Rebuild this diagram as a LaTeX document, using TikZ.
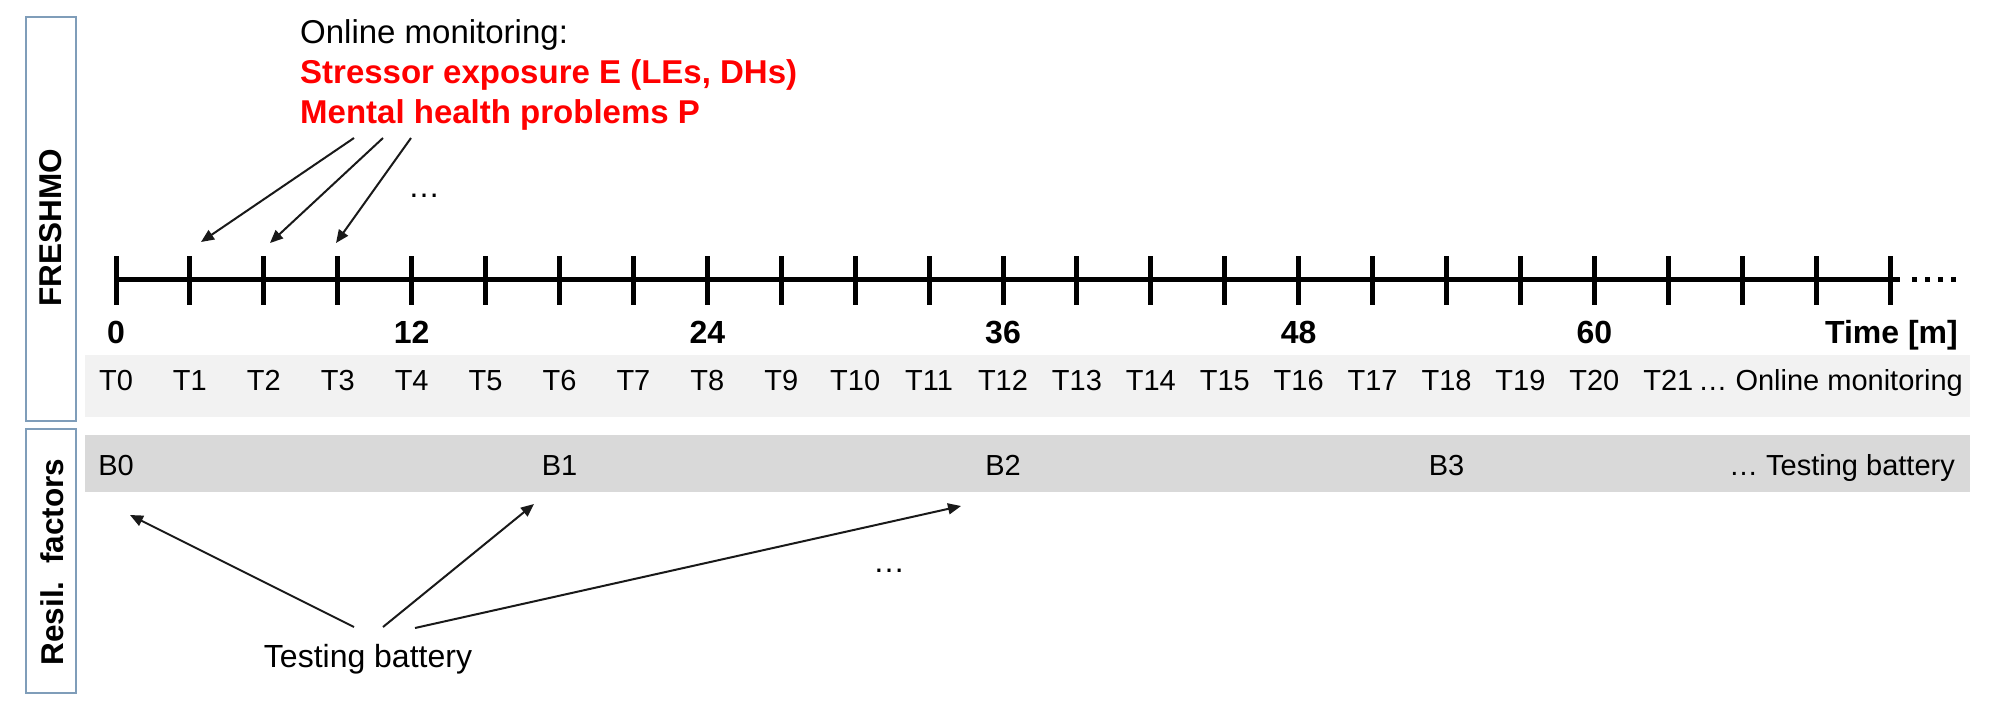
\documentclass[tikz,border=0pt]{standalone}
\usepackage{fontspec}
\setmainfont{Liberation Sans}
\usetikzlibrary{arrows.meta}
\definecolor{boxblue}{HTML}{7F9DB9}
\definecolor{tbandc}{HTML}{F2F2F2}
\definecolor{bbandc}{HTML}{D9D9D9}
\definecolor{myred}{HTML}{FF0000}
\tikzset{
  sidebox/.style={draw=boxblue, line width=1.5pt, inner sep=0pt},
  sidelab/.style={inner sep=0pt, rotate=90, font=\bfseries\fontsize{31.5}{36}\selectfont},
  toplab/.style={inner sep=0pt, anchor=base west, font=\fontsize{33}{38}\selectfont},
  redlab/.style={toplab, text=myred, font=\bfseries\fontsize{33}{38}\selectfont},
  numlab/.style={inner sep=0pt, anchor=base, font=\bfseries\fontsize{32}{36}\selectfont},
  rowlab/.style={inner sep=0pt, anchor=base, font=\fontsize{29}{34}\selectfont},
  bandbox/.style={inner sep=0pt, draw=none},
  tickline/.style={line width=5pt},
  arr/.style={line width=2pt, draw=black!90, -{Triangle[length=13pt,width=11pt]}},
}
\begin{document}
\begin{tikzpicture}[x=1pt,y=-1pt]
\useasboundingbox (0,0) rectangle (2008,709);
% side boxes with rotated labels
\node[sidebox, minimum width=50pt, minimum height=404pt] (fbox) at (51,219) {};
\node[sidelab] (fresh) at (51,228) {FRESHMO};
\node[sidebox, minimum width=50pt, minimum height=264pt] (rbox) at (51,561) {};
\node[sidelab] (resil) at (52,562) {Resil.\ \ factors};
% bands
\node[bandbox, fill=tbandc, minimum width=1885pt, minimum height=62pt] (tband) at (1027.5,386) {};
\node[bandbox, fill=bbandc, minimum width=1885pt, minimum height=57pt] (bband) at (1027.5,463.5) {};
% timeline
\foreach \i in {0,...,24} {
  \coordinate (t\i) at ({116+\i*73.917},279);
  \draw[tickline] ({116+\i*73.917},256) -- ({116+\i*73.917},305);
}
\coordinate (tend) at (1900,279);
\draw[tickline] (t0) -- (tend);
\coordinate (dotsA) at (1912,279);
\coordinate (dotsB) at (1957,279);
\draw[tickline, dash pattern=on 5pt off 8pt] (dotsA) -- (dotsB);
% month numbers
\foreach \m/\i in {0/0,12/4,24/8,36/12,48/16,60/20} {
  \node[numlab] (m\m) at ({116+\i*73.917},343) {\m};
}
\node[numlab, anchor=base east] (time) at (1958,343) {Time [m]};
% T row
\foreach \i in {0,...,21} {
  \node[rowlab] (T\i) at ({116+\i*73.917},390.5) {T\i};
}
\node[rowlab, anchor=base east] (omrow) at (1963,390.5) {… Online monitoring};
% B row
\foreach \k in {0,...,3} {
  \node[rowlab] (B\k) at ({116+\k*443.5},475) {B\k};
}
\node[rowlab, anchor=base east] (tbrow) at (1955,475) {… Testing battery};
% top texts
\node[toplab] (om) at (300,44) {Online monitoring:};
\node[redlab] (se) at (300,84) {Stressor exposure E (LEs, DHs)};
\node[redlab] (mh) at (300,123) {Mental health problems P};
\node[rowlab, font=\fontsize{32}{36}\selectfont] (dtop) at (424,197) {…};
% top arrows
\coordinate (a1s) at (354,138); \coordinate (a1e) at (201,242);
\coordinate (a2s) at (383,138); \coordinate (a2e) at (270,243);
\coordinate (a3s) at (411,138); \coordinate (a3e) at (336,243);
\draw[arr] (a1s) -- (a1e);
\draw[arr] (a2s) -- (a2e);
\draw[arr] (a3s) -- (a3e);
% bottom
\node[inner sep=0pt, anchor=base, font=\fontsize{32}{36}\selectfont] (tbat) at (368,667) {Testing battery};
\node[rowlab, font=\fontsize{32}{36}\selectfont] (dbot) at (889,572) {…};
\coordinate (b1s) at (354,627); \coordinate (b1e) at (130,515);
\coordinate (b2s) at (383,627); \coordinate (b2e) at (534,504);
\coordinate (b3s) at (415,628); \coordinate (b3e) at (961,506);
\draw[arr] (b1s) -- (b1e);
\draw[arr] (b2s) -- (b2e);
\draw[arr] (b3s) -- (b3e);
\end{tikzpicture}
\end{document}
